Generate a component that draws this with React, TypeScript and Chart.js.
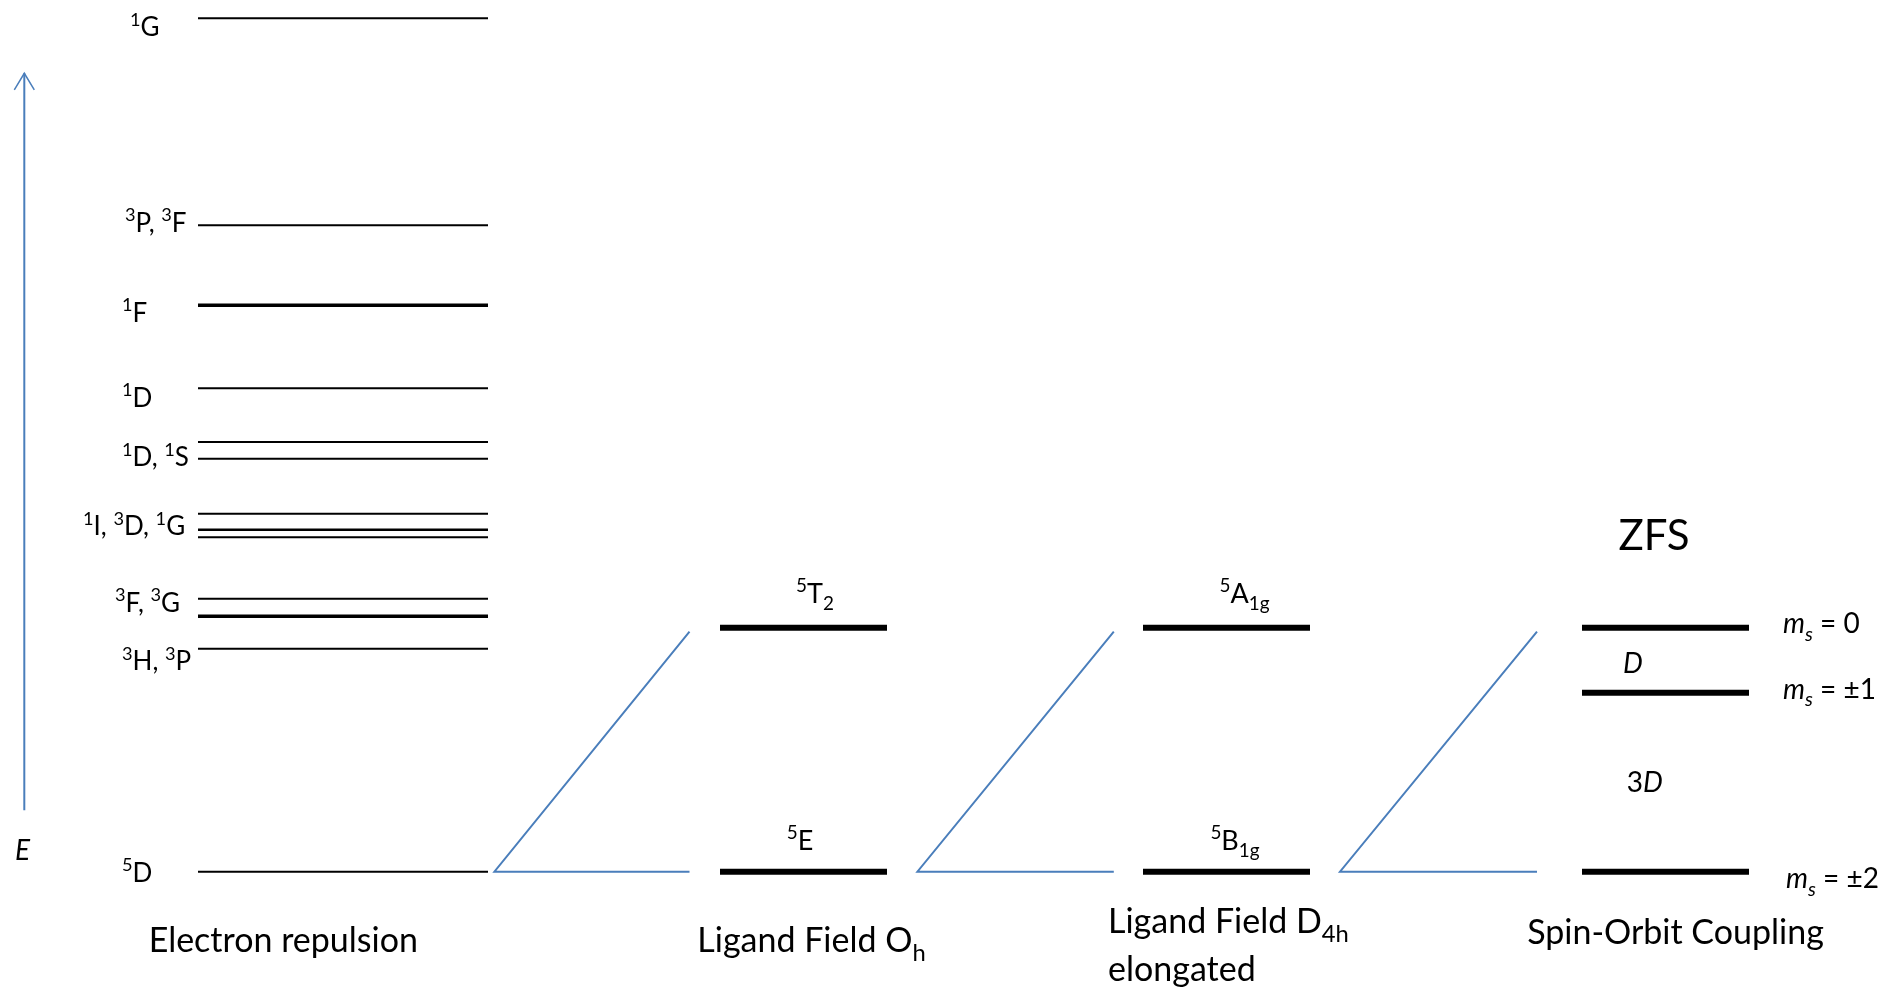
import React, { useEffect, useRef } from "react";
import { Chart, registerables } from "chart.js";

Chart.register(...registerables);

// ---------------- DATA (energies in relative units, 5D ground term = 0) ----------------
// Electron-repulsion (free-ion) terms
const freeIonEnergies = [100, 75.74, 66.37, 56.64, 50.35, 48.39, 41.95, 40.07, 39.18, 31.99, 29.93, 26.13, 0];
// Term labels with the energy of their text baseline
const freeIonLabels = ["^{1}G", "^{3}P, ^{3}F", "^{1}F", "^{1}D", "^{1}D, ^{1}S", "^{1}I, ^{3}D, ^{1}G", "^{3}F, ^{3}G", "^{3}H, ^{3}P", "^{5}D"];
const freeIonLabelEnergies = [97.93, 75.0, 64.45, 54.49, 47.54, 39.45, 30.47, 23.63, -1.17];

// Ligand field Oh
const ohEnergies = [28.59, 0];
const ohLabels = ["^{5}T_{2}", "^{5}E"];
// Ligand field D4h elongated
const d4hEnergies = [28.59, 0];
const d4hLabels = ["^{5}A_{1g}", "^{5}B_{1g}"];
// Spin-orbit coupling (ZFS)
const zfsEnergies = [28.59, 20.97, 0];
const zfsLabels = ["*m*_{*s*} = 0", "*m*_{*s*} = ±1", "*m*_{*s*} = ±2"];
const zfsGapLabels = ["*D*", "3*D*"];

// Column titles
const columnTitles = ["Electron repulsion", "Ligand Field O_{h}", "Ligand Field D_{4h}", "elongated", "Spin-Orbit Coupling"];

// Correlation (splitting) lines: energy of parent and top of the fan
const splitBase = 0;
const splitTop = 28.13;
// Energy axis arrow extent
const axisArrowFrom = 7.2;
const axisArrowTo = 93.55;

// ---------------- LAYOUT / STYLE ----------------
const W = 1899;
const H = 989;
const Y_MIN = -13.745;
const Y_MAX = 102.14;
const FONT = "Lato, 'Open Sans', sans-serif";
const BLUE = "#4A7EBB";

const freeIonX: [number, number] = [198, 488];
const freeIonWidths = [2, 2, 3.5, 2, 2, 2, 2, 2.5, 2, 2, 3.5, 2, 2];
const freeIonLabelX = [130, 125, 122, 122, 122, 83, 115, 122, 122];
const ohX: [number, number] = [720, 887];
const d4hX: [number, number] = [1143, 1310];
const zfsX: [number, number] = [1582, 1749];
const fans: [number, number][] = [
  [494.4, 689.5],
  [917.4, 1113.8],
  [1340, 1537],
];
const arrowX = 24.3;

type Ann = { text: string; x: number; e: number; size: number; align: "left" | "center" | "right" };

const annotations: Ann[] = [
  ...freeIonLabels.map((t, i) => ({ text: t, x: freeIonLabelX[i], e: freeIonLabelEnergies[i], size: 26, align: "left" as const })),
  { text: ohLabels[0], x: 815, e: 31.49, size: 27, align: "center" },
  { text: ohLabels[1], x: 800, e: 2.54, size: 27, align: "center" },
  { text: d4hLabels[0], x: 1244.5, e: 31.49, size: 27, align: "center" },
  { text: d4hLabels[1], x: 1235, e: 2.54, size: 27, align: "center" },
  { text: zfsLabels[0], x: 1783, e: 27.94, size: 28, align: "left" },
  { text: zfsLabels[1], x: 1783, e: 20.24, size: 28, align: "left" },
  { text: zfsLabels[2], x: 1786, e: -1.95, size: 28, align: "left" },
  { text: zfsGapLabels[0], x: 1623, e: 23.25, size: 28, align: "left" },
  { text: zfsGapLabels[1], x: 1626.7, e: 9.37, size: 28, align: "left" },
  { text: "ZFS", x: 1654, e: 37.7, size: 42, align: "center" },
  { text: columnTitles[0], x: 283.3, e: -9.37, size: 34, align: "center" },
  { text: columnTitles[1], x: 811.5, e: -9.37, size: 34, align: "center" },
  { text: columnTitles[2], x: 1108, e: -7.18, size: 34, align: "left" },
  { text: columnTitles[3], x: 1108, e: -12.77, size: 34, align: "left" },
  { text: columnTitles[4], x: 1675.5, e: -8.47, size: 34, align: "center" },
  { text: "*E*", x: 15, e: 1.37, size: 28, align: "left" },
];

// ---------------- RICH TEXT ----------------
type Seg = { text: string; italic: boolean; pos: number };
function inner(t: string, pos: number): Seg {
  if (t.length > 1 && t.startsWith("*") && t.endsWith("*")) return { text: t.slice(1, -1), italic: true, pos };
  return { text: t, italic: false, pos };
}
function parseRich(s: string): Seg[] {
  const segs: Seg[] = [];
  const re = /\^\{([^}]*)\}|_\{([^}]*)\}|\*([^*]*)\*|([^\^_*]+)/g;
  let m: RegExpExecArray | null;
  while ((m = re.exec(s))) {
    if (m[1] !== undefined) segs.push(inner(m[1], 1));
    else if (m[2] !== undefined) segs.push(inner(m[2], -1));
    else if (m[3] !== undefined) segs.push({ text: m[3], italic: true, pos: 0 });
    else if (m[4] !== undefined) segs.push({ text: m[4], italic: false, pos: 0 });
  }
  return segs;
}
function drawRich(ctx: CanvasRenderingContext2D, s: string, x: number, y: number, fs: number, align: string) {
  const segs = parseRich(s);
  const parts = segs.map((sg) => {
    const size = sg.pos === 0 ? fs : fs * 0.7;
    const font = `${sg.italic ? "italic " : ""}${size}px ${FONT}`;
    ctx.font = font;
    const w = ctx.measureText(sg.text).width;
    const dy = sg.pos === 1 ? -fs * 0.4 : sg.pos === -1 ? fs * 0.26 : 0;
    return { ...sg, font, w, dy };
  });
  const total = parts.reduce((a, p) => a + p.w, 0);
  let cx = align === "center" ? x - total / 2 : align === "right" ? x - total : x;
  ctx.textAlign = "left";
  ctx.textBaseline = "alphabetic";
  for (const p of parts) {
    ctx.font = p.font;
    ctx.fillText(p.text, cx, y + p.dy);
    cx += p.w;
  }
}

const textPlugin = {
  id: "diagramText",
  afterDatasetsDraw(chart: any) {
    const { ctx, scales } = chart;
    const xs = scales.x;
    const ys = scales.y;
    ctx.save();
    ctx.fillStyle = "#000";
    for (const a of annotations) {
      drawRich(ctx, a.text, xs.getPixelForValue(a.x), ys.getPixelForValue(a.e), a.size, a.align);
    }
    ctx.restore();
  },
};

function levelDataset(x: [number, number], e: number, width: number, color = "#000") {
  return {
    data: [
      { x: x[0], y: e },
      { x: x[1], y: e },
    ],
    showLine: true,
    borderColor: color,
    borderWidth: width,
    pointRadius: 0,
    pointHoverRadius: 0,
    fill: false,
    tension: 0,
  };
}

export default function App() {
  const ref = useRef<HTMLCanvasElement | null>(null);
  useEffect(() => {
    if (!ref.current) return;
    const datasets: any[] = [];
    freeIonEnergies.forEach((e, i) => datasets.push(levelDataset(freeIonX, e, freeIonWidths[i])));
    ohEnergies.forEach((e) => datasets.push(levelDataset(ohX, e, 6)));
    d4hEnergies.forEach((e) => datasets.push(levelDataset(d4hX, e, 6)));
    zfsEnergies.forEach((e) => datasets.push(levelDataset(zfsX, e, 6)));
    fans.forEach(([l, r]) =>
      datasets.push({
        data: [
          { x: r, y: splitTop },
          { x: l, y: splitBase },
          { x: r, y: splitBase },
        ],
        showLine: true,
        borderColor: BLUE,
        borderWidth: 2,
        pointRadius: 0,
        pointHoverRadius: 0,
        fill: false,
        tension: 0,
      })
    );
    // energy axis arrow
    datasets.push({
      data: [
        { x: arrowX, y: axisArrowFrom },
        { x: arrowX, y: axisArrowTo },
      ],
      showLine: true,
      borderColor: BLUE,
      borderWidth: 2,
      pointRadius: 0,
      pointHoverRadius: 0,
    });
    datasets.push({
      data: [
        { x: arrowX - 10, y: axisArrowTo - 1.95 },
        { x: arrowX, y: axisArrowTo },
        { x: arrowX + 10, y: axisArrowTo - 1.95 },
      ],
      showLine: true,
      borderColor: BLUE,
      borderWidth: 1.5,
      pointRadius: 0,
      pointHoverRadius: 0,
    });

    const chart = new Chart(ref.current, {
      type: "scatter",
      data: { datasets },
      options: {
        animation: false,
        responsive: true,
        maintainAspectRatio: false,
        events: [],
        layout: { padding: 0, autoPadding: false },
        plugins: { legend: { display: false }, tooltip: { enabled: false } },
        scales: {
          x: { type: "linear", min: 0, max: W, display: false },
          y: { type: "linear", min: Y_MIN, max: Y_MAX, display: false },
        },
      },
      plugins: [textPlugin],
    });
    (document as any).fonts?.load?.(`22px Lato`).then(() => chart.update());
    return () => chart.destroy();
  }, []);
  return (
    <div style={{ position: "absolute", left: 0, top: 0, width: W, height: H, background: "#fff" }}>
      <canvas ref={ref} style={{ display: "block" }} />
    </div>
  );
}
